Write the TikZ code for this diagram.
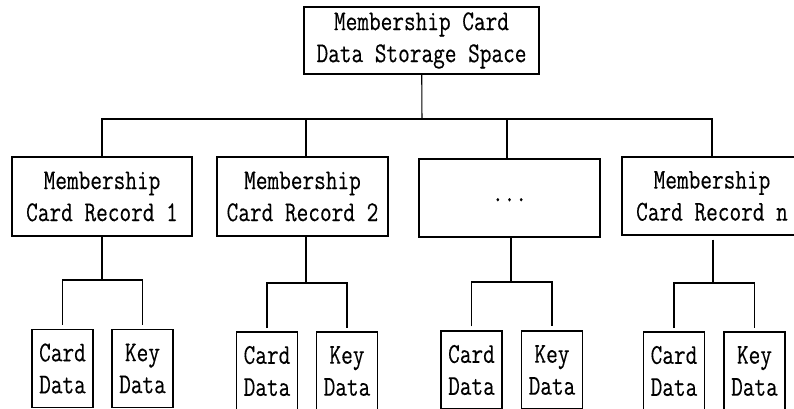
\documentclass[tikz,border=0pt]{standalone}
\usepackage{fontspec}
\setmonofont{Latin Modern Mono}[FakeStretch=0.79,FakeBold=0.3]
\begin{document}
\begin{tikzpicture}[x=0.75pt,y=-0.75pt,
  every node/.style={font=\ttfamily\fontsize{21.5}{24}\selectfont},
  box/.style={draw, line width=0.8pt, inner sep=0pt, align=center},
  ln/.style={line width=0.8pt},
  leaf/.style={box, minimum width=45.75pt, minimum height=58.5pt}]
\useasboundingbox (0,0) rectangle (794,409);
\clip (0,0) rectangle (794,409);
% top
\node[box, minimum width=176.25pt, minimum height=50.25pt] (top) at (421.5,40.5) {Membership Card\\Data Storage Space};
% level 2
\node[box, minimum width=135pt, minimum height=59.25pt] (r1) at (102,196.5) {Membership\\Card Record 1};
\node[box, minimum width=128.25pt, minimum height=59.25pt] (r2) at (302.5,196.5) {Membership\\Card Record 2};
\node[box, minimum width=135.75pt, minimum height=58.5pt] (r3) at (509.5,198) {\raisebox{-5pt}{...}};
\node[box, minimum width=135pt, minimum height=58.5pt] (r4) at (712,196) {Membership\\Card Record n};
% leaves
\node[leaf] (c1) at (62.5,368.5) {Card\\Data};
\node[leaf] (k1) at (142.5,368.5) {Key\\Data};
\node[leaf] (c2) at (267,371) {Card\\Data};
\node[leaf] (k2) at (347,371) {Key\\Data};
\node[leaf] (c3) at (471.5,370) {Card\\Data};
\node[leaf] (k3) at (552,370) {Key\\Data};
\node[leaf] (c4) at (674,371) {Card\\Data};
\node[leaf] (k4) at (754.5,371) {Key\\Data};
% junctions
\coordinate (J) at (422,119);
\coordinate (t2) at (306,119);
\coordinate (t3) at (507,119);
\coordinate (s1) at (102,280);
\coordinate (s2) at (306,283);
\coordinate (s3) at (511,282);
\coordinate (s4) at (713,283);
% top connectors
\draw[ln] (top) -- (J);
\draw[ln] (r1.north) |- (J);
\draw[ln] (r4.north -| 712,0) |- (J);
\draw[ln] (t2 |- r2.north) -- (t2);
\draw[ln] (t3 |- r3.north) -- (t3);
% sub connectors
\draw[ln] (s1 |- r1.south) -- (s1);
\draw[ln] (s2 |- r2.south) -- (s2);
\draw[ln] (s3 |- r3.south) -- (s3);
\draw[ln] ([yshift=-3pt]s4 |- r4.south) -- (s4);
\draw[ln, shorten <=3pt] (c1.north) |- (s1) -| ([yshift=3pt]k1.north);
\draw[ln, shorten <=2.5pt] (c2.north) |- (s2) -| ([yshift=2.5pt]k2.north);
\draw[ln, shorten <=3pt] (c3.north) |- (s3) -| ([yshift=3pt]k3.north);
\draw[ln, shorten <=2.5pt] (c4.north) |- (s4) -| ([yshift=2.5pt]k4.north);
\end{tikzpicture}
\end{document}
